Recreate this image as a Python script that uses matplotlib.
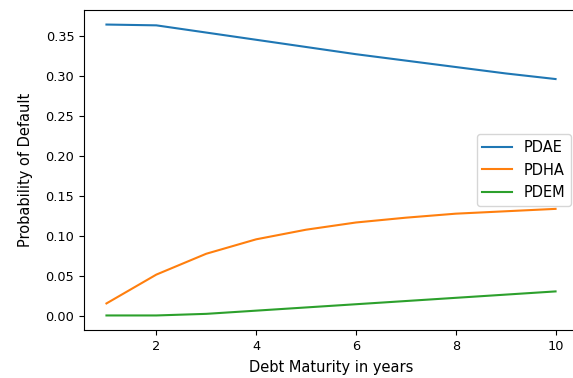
import matplotlib
matplotlib.use("Agg")
import matplotlib.pyplot as plt

maturity = [1, 2, 3, 4, 5, 6, 7, 8, 9, 10]
pdae = [0.364, 0.363, 0.354, 0.345, 0.336, 0.327, 0.319, 0.311, 0.303, 0.296]
pdha = [0.016, 0.052, 0.078, 0.096, 0.108, 0.117, 0.123, 0.128, 0.131, 0.134]
pdem = [0.001, 0.001, 0.003, 0.007, 0.011, 0.015, 0.019, 0.023, 0.027, 0.031]

plt.rcParams["font.family"] = "DejaVu Sans"
plt.rcParams["xtick.labelsize"] = 9.3
plt.rcParams["ytick.labelsize"] = 9.3
plt.rcParams["axes.labelsize"] = 10.5
plt.rcParams["legend.fontsize"] = 10.5

fig = plt.figure(figsize=(5.73, 3.78), dpi=100)
ax = fig.add_axes([84 / 573, 48 / 378, 494 / 573, 320 / 378])

ax.plot(maturity, pdae, label="PDAE")
ax.plot(maturity, pdha, label="PDHA")
ax.plot(maturity, pdem, label="PDEM")

ax.set_xlabel("Debt Maturity in years", labelpad=5)
ax.set_ylabel("Probability of Default", labelpad=9)
ax.legend(loc="center right")

fig.savefig("out.png", dpi=100)
